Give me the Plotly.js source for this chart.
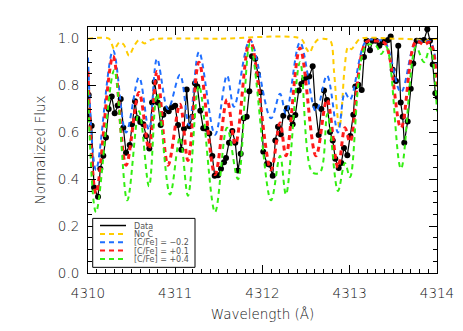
<!DOCTYPE html>
<html>
<head>
<meta charset="utf-8">
<script src="https://cdn.plot.ly/plotly-3.0.1.min.js"></script>
<style>html,body{margin:0;padding:0;background:#fff;}#chart{width:463px;height:331px;}</style>
</head>
<body>
<div id="chart"></div>
<script>
// ---- Data ----
const seriesNames = ['Data', 'No C', '[C/Fe] = \u22120.2', '[C/Fe] = +0.1', '[C/Fe] = +0.4'];
const seriesColors = ['#000000', '#ffcc00', '#1f6fff', '#ff1a1a', '#33ee11'];

const wlData = [4309.989,4310.008,4310.042,4310.069,4310.115,4310.141,4310.175,4310.206,4310.237,4310.272,
  4310.306,4310.340,4310.375,4310.405,4310.436,4310.478,4310.504,4310.539,4310.565,4310.599,
  4310.634,4310.665,4310.703,4310.734,4310.764,4310.799,4310.833,4310.863,4310.894,4310.925,
  4310.963,4310.999,4311.032,4311.069,4311.100,4311.131,4311.161,4311.195,4311.226,4311.253,
  4311.287,4311.321,4311.356,4311.390,4311.425,4311.452,4311.490,4311.524,4311.559,4311.582,
  4311.616,4311.654,4311.688,4311.719,4311.750,4311.785,4311.819,4311.849,4311.880,4311.917,
  4311.948,4311.979,4312.009,4312.052,4312.078,4312.117,4312.147,4312.178,4312.209,4312.238,
  4312.281,4312.315,4312.346,4312.376,4312.415,4312.445,4312.476,4312.507,4312.536,4312.575,
  4312.605,4312.644,4312.674,4312.705,4312.739,4312.774,4312.805,4312.834,4312.873,4312.903,
  4312.934,4312.972,4313.006,4313.041,4313.064,4313.098,4313.137,4313.163,4313.194,4313.232,
  4313.263,4313.301,4313.339,4313.375,4313.410,4313.440,4313.469,4313.492,4313.530,4313.556,
  4313.584,4313.607,4313.625,4313.664,4313.699,4313.728,4313.767,4313.805,4313.851,4313.889,
  4313.920,4313.951,4313.981,4314.006];
const fluxData = [0.670,0.760,0.628,0.365,0.325,0.445,0.500,0.578,0.700,0.753,
  0.682,0.715,0.743,0.620,0.513,0.546,0.635,0.733,0.660,0.645,
  0.635,0.585,0.531,0.728,0.815,0.728,0.632,0.675,0.700,0.690,
  0.707,0.714,0.632,0.526,0.616,0.783,0.626,0.667,0.810,0.796,
  0.693,0.618,0.616,0.595,0.499,0.415,0.417,0.445,0.473,0.491,
  0.556,0.606,0.556,0.437,0.509,0.661,0.667,0.776,0.925,0.915,
  0.848,0.772,0.517,0.466,0.463,0.415,0.566,0.624,0.592,0.671,
  0.703,0.664,0.635,0.674,0.779,0.807,0.825,0.836,0.839,0.882,
  0.714,0.589,0.700,0.779,0.738,0.602,0.566,0.488,0.448,0.470,
  0.534,0.503,0.585,0.675,0.796,0.803,0.781,0.922,0.991,0.951,
  0.991,0.991,0.970,0.985,0.990,0.995,1.009,0.868,0.819,0.970,
  0.728,0.667,0.556,0.647,0.786,0.894,0.991,0.991,0.994,1.040,
  0.991,0.890,0.767,0.750];

const wlNoC = [4310.00,4310.24,4310.30,4310.36,4310.41,4310.47,4310.53,4310.58,4310.65,4310.72,4310.80,
  4311.50,4312.44,4312.50,4312.54,4312.58,4312.63,4312.70,4312.78,4312.82,4312.86,4312.88,4312.90,
  4312.94,4312.98,4313.02,4313.06,4313.12,4313.50,4313.80,4313.85,4313.90,4314.00];
const fluxNoC = [1.00,1.00,0.955,0.985,0.975,0.928,0.970,0.993,0.980,0.995,1.00,
  1.00,1.00,0.960,0.940,0.970,0.995,1.00,0.990,0.860,0.670,0.620,0.660,
  0.870,0.965,0.955,0.975,1.00,1.00,0.995,0.985,0.995,1.00];

const wlLow = [4310.000,4310.092,4310.287,4310.436,4310.585,4310.699,4310.791,4310.917,4311.054,4311.158,
  4311.272,4311.456,4311.593,4311.673,4311.857,4312.097,4312.201,4312.269,4312.430,4312.613,
  4312.739,4312.865,4312.945,4313.003,4313.186,4313.300,4313.404,4313.587,4313.759,4313.851,
  4313.920,4314.000];
const fluxLow = [0.920,0.440,0.950,0.600,0.835,0.610,0.915,0.700,0.846,0.630,
  0.944,0.590,0.843,0.710,0.995,0.660,0.765,0.680,0.985,0.690,
  0.843,0.600,0.770,0.740,0.990,0.995,0.985,0.772,0.990,0.985,
  0.990,0.860];

const wlMid = [4310.000,4310.092,4310.287,4310.436,4310.585,4310.699,4310.791,4310.917,4311.054,4311.146,
  4311.272,4311.456,4311.593,4311.690,4311.857,4312.097,4312.201,4312.269,4312.430,4312.613,
  4312.739,4312.865,4312.945,4313.003,4313.186,4313.300,4313.404,4313.587,4313.759,4313.851,
  4313.920,4314.000];
const fluxMid = [0.860,0.340,0.925,0.460,0.770,0.530,0.860,0.460,0.720,0.480,
  0.900,0.420,0.740,0.550,0.995,0.440,0.640,0.500,0.960,0.500,
  0.740,0.450,0.620,0.560,0.985,0.990,0.980,0.620,0.990,0.975,
  0.985,0.780];

const wlHigh = [4310.000,4310.092,4310.300,4310.450,4310.585,4310.699,4310.791,4310.940,4311.054,4311.146,
  4311.272,4311.456,4311.593,4311.719,4311.857,4312.097,4312.201,4312.269,4312.430,4312.570,
  4312.660,4312.745,4312.865,4312.945,4313.003,4313.186,4313.300,4313.360,4313.420,4313.587,
  4313.759,4313.851,4313.920,4314.000];
const fluxHigh = [0.780,0.260,0.865,0.310,0.690,0.370,0.765,0.335,0.580,0.330,
  0.800,0.260,0.620,0.400,0.980,0.310,0.500,0.335,0.900,0.430,
  0.430,0.680,0.350,0.470,0.410,0.970,0.970,0.935,0.965,0.445,
  0.965,0.900,0.960,0.690];

// ---- Traces ----
const dashStyle = '5px,4px';
const traces = [
  {x: wlData, y: fluxData, mode: 'lines', line: {color: seriesColors[0], width: 1.2}, name: seriesNames[0], showlegend: false},
  {x: wlData, y: fluxData, mode: 'markers', marker: {color: seriesColors[0], size: 6}, name: seriesNames[0], showlegend: false},
  {x: wlNoC, y: fluxNoC, mode: 'lines', line: {color: seriesColors[1], width: 2, dash: dashStyle, shape: 'spline', smoothing: 0.8}, name: seriesNames[1], showlegend: false},
  {x: wlLow, y: fluxLow, mode: 'lines', line: {color: seriesColors[2], width: 2, dash: dashStyle, shape: 'spline', smoothing: 1}, name: seriesNames[2], showlegend: false},
  {x: wlMid, y: fluxMid, mode: 'lines', line: {color: seriesColors[3], width: 3, dash: dashStyle, shape: 'spline', smoothing: 1}, name: seriesNames[3], showlegend: false},
  {x: wlHigh, y: fluxHigh, mode: 'lines', line: {color: seriesColors[4], width: 2, dash: dashStyle, shape: 'spline', smoothing: 1}, name: seriesNames[4], showlegend: false}
];

// ---- Hand-made legend (IDL style) ----
const shapes = [{type: 'rect', xref: 'paper', yref: 'paper', x0: 0.0135, x1: 0.3066, y0: 0.023, y1: 0.222,
  line: {color: '#000', width: 1}, fillcolor: '#fff', layer: 'above'}];
const annotations = [];
const rowY = [0.193, 0.159, 0.125, 0.091, 0.057];
seriesNames.forEach((nm, i) => {
  shapes.push({type: 'line', xref: 'paper', yref: 'paper', x0: 0.0344, x1: 0.1089, y0: rowY[i], y1: rowY[i],
    line: {color: seriesColors[i], width: i === 0 ? 1.5 : 2, dash: i === 0 ? 'solid' : dashStyle}, layer: 'above'});
  annotations.push({xref: 'paper', yref: 'paper', x: 0.1298, y: rowY[i], text: nm, showarrow: false,
    xanchor: 'left', yanchor: 'middle', height: 8, borderpad: 0,
    font: {family: 'DejaVu Sans', size: 8, color: '#555', weight: 400}});
});

const axisFont = {family: 'DejaVu Sans', size: 13.5, color: '#111', weight: 300};
const layout = {
  width: 463, height: 331,
  margin: {l: 88, r: 26, t: 27, b: 58},
  paper_bgcolor: '#fff', plot_bgcolor: '#fff',
  showlegend: false,
  font: axisFont,
  xaxis: {
    range: [4310, 4314], dtick: 1, tick0: 4310, tickformat: 'd',
    ticks: 'inside', ticklen: 8, tickcolor: '#000', tickwidth: 1,
    showline: true, linecolor: '#000', linewidth: 1, mirror: 'ticks',
    showgrid: false, zeroline: false, tickfont: axisFont, ticklabelstandoff: 8,
    minor: {ticks: 'inside', ticklen: 4, dtick: 0.1, tickcolor: '#000', showgrid: false},
    title: {text: 'Wavelength (\u00c5)', font: axisFont, standoff: 9}
  },
  yaxis: {
    range: [0, 1.05], dtick: 0.2, tick0: 0, tickformat: '.1f',
    ticks: 'inside', ticklen: 8, tickcolor: '#000', tickwidth: 1,
    showline: true, linecolor: '#000', linewidth: 1, mirror: 'ticks',
    showgrid: false, zeroline: false, tickfont: axisFont, ticklabelstandoff: 5,
    minor: {ticks: 'inside', ticklen: 4, dtick: 0.05, tickcolor: '#000', showgrid: false},
    title: {text: 'Normalized Flux', font: axisFont, standoff: 9}
  },
  shapes: shapes,
  annotations: annotations
};

Plotly.newPlot('chart', traces, layout, {displayModeBar: false, staticPlot: true});
</script>
</body>
</html>
